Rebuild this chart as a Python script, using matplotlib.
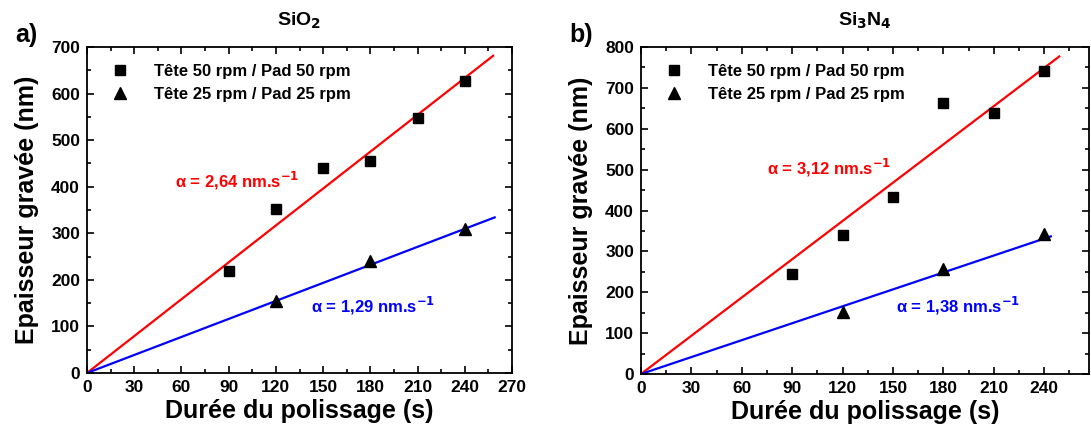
import matplotlib.pyplot as plt
from matplotlib.ticker import MultipleLocator

plt.rcParams['font.family'] = ['Liberation Sans', 'DejaVu Sans']
plt.rcParams['font.weight'] = 'bold'
plt.rcParams['mathtext.default'] = 'bf'

# SiO2 data
sio2_t50 = [90, 120, 150, 180, 210, 240]
sio2_e50 = [220, 352, 440, 455, 547, 626]
sio2_t25 = [120, 180, 240]
sio2_e25 = [155, 240, 310]
sio2_slopes = [2.64, 1.29]
sio2_fit_end = [258, 259]

# Si3N4 data
si3n4_t50 = [90, 120, 150, 180, 210, 240]
si3n4_e50 = [245, 340, 432, 663, 638, 742]
si3n4_t25 = [120, 180, 240]
si3n4_e25 = [152, 258, 342]
si3n4_slopes = [3.12, 1.38]
si3n4_fit_end = [249, 244]

labels = ["Tête 50 rpm / Pad 50 rpm", "Tête 25 rpm / Pad 25 rpm"]


def rate_text(s):
    return "α = %s nm.s$^{-1}$" % str(s).replace('.', ',')


def panel(ax, t50, e50, t25, e25, slopes, ends, xlim, ylim, title,
          txt_red, txt_blue, letter):
    ax.plot(t50, e50, 's', color='black', ms=7, label=labels[0], zorder=3)
    ax.plot(t25, e25, '^', color='black', ms=8, label=labels[1], zorder=3)
    for s, end, c in zip(slopes, ends, ['red', 'blue']):
        ax.plot([0, end], [0, s * end], color=c, lw=1.6, zorder=2)
    ax.set_xlim(*xlim)
    ax.set_ylim(*ylim)
    ax.xaxis.set_major_locator(MultipleLocator(30))
    ax.xaxis.set_minor_locator(MultipleLocator(15))
    ax.yaxis.set_major_locator(MultipleLocator(100))
    ax.yaxis.set_minor_locator(MultipleLocator(50))
    ax.tick_params(which='both', direction='in', top=True, right=True,
                   labelsize=12.5, width=1.2)
    ax.tick_params(which='major', length=5, pad=5)
    ax.tick_params(which='minor', length=3)
    for sp in ax.spines.values():
        sp.set_linewidth(1.3)
    ax.set_xlabel("Durée du polissage (s)", fontsize=18, fontweight='bold',
                  labelpad=3)
    ax.set_ylabel("Epaisseur gravée (nm)", fontsize=18, fontweight='bold',
                  labelpad=9)
    ax.set_title(title, fontsize=14, fontweight='bold', pad=15)
    ax.text(*txt_red, rate_text(slopes[0]), color='red', fontsize=12,
            fontweight='bold')
    ax.text(*txt_blue, rate_text(slopes[1]), color='blue', fontsize=12,
            fontweight='bold')
    ax.text(letter[1], 1.0, letter[0], transform=ax.transAxes, fontsize=18,
            fontweight='bold', va='bottom')
    ax.legend(loc='upper left', frameon=False, fontsize=12, handletextpad=1.0,
              borderaxespad=0.6, labelspacing=0.5)


fig = plt.figure(figsize=(10.91, 4.34), dpi=100)
ax1 = fig.add_axes([87 / 1091, 1 - 373 / 434, 425 / 1091, 326 / 434])
ax2 = fig.add_axes([641 / 1091, 1 - 374 / 434, 448 / 1091, 327 / 434])

panel(ax1, sio2_t50, sio2_e50, sio2_t25, sio2_e25, sio2_slopes, sio2_fit_end,
      (0, 270), (0, 700), "SiO$_2$", (56, 398), (142, 130), ("a)", -0.17))
panel(ax2, si3n4_t50, si3n4_e50, si3n4_t25, si3n4_e25, si3n4_slopes,
      si3n4_fit_end, (0, 266.7), (0, 800), "Si$_3$N$_4$", (75, 488),
      (152, 150), ("b)", -0.16))

fig.savefig("out.png", dpi=100)
